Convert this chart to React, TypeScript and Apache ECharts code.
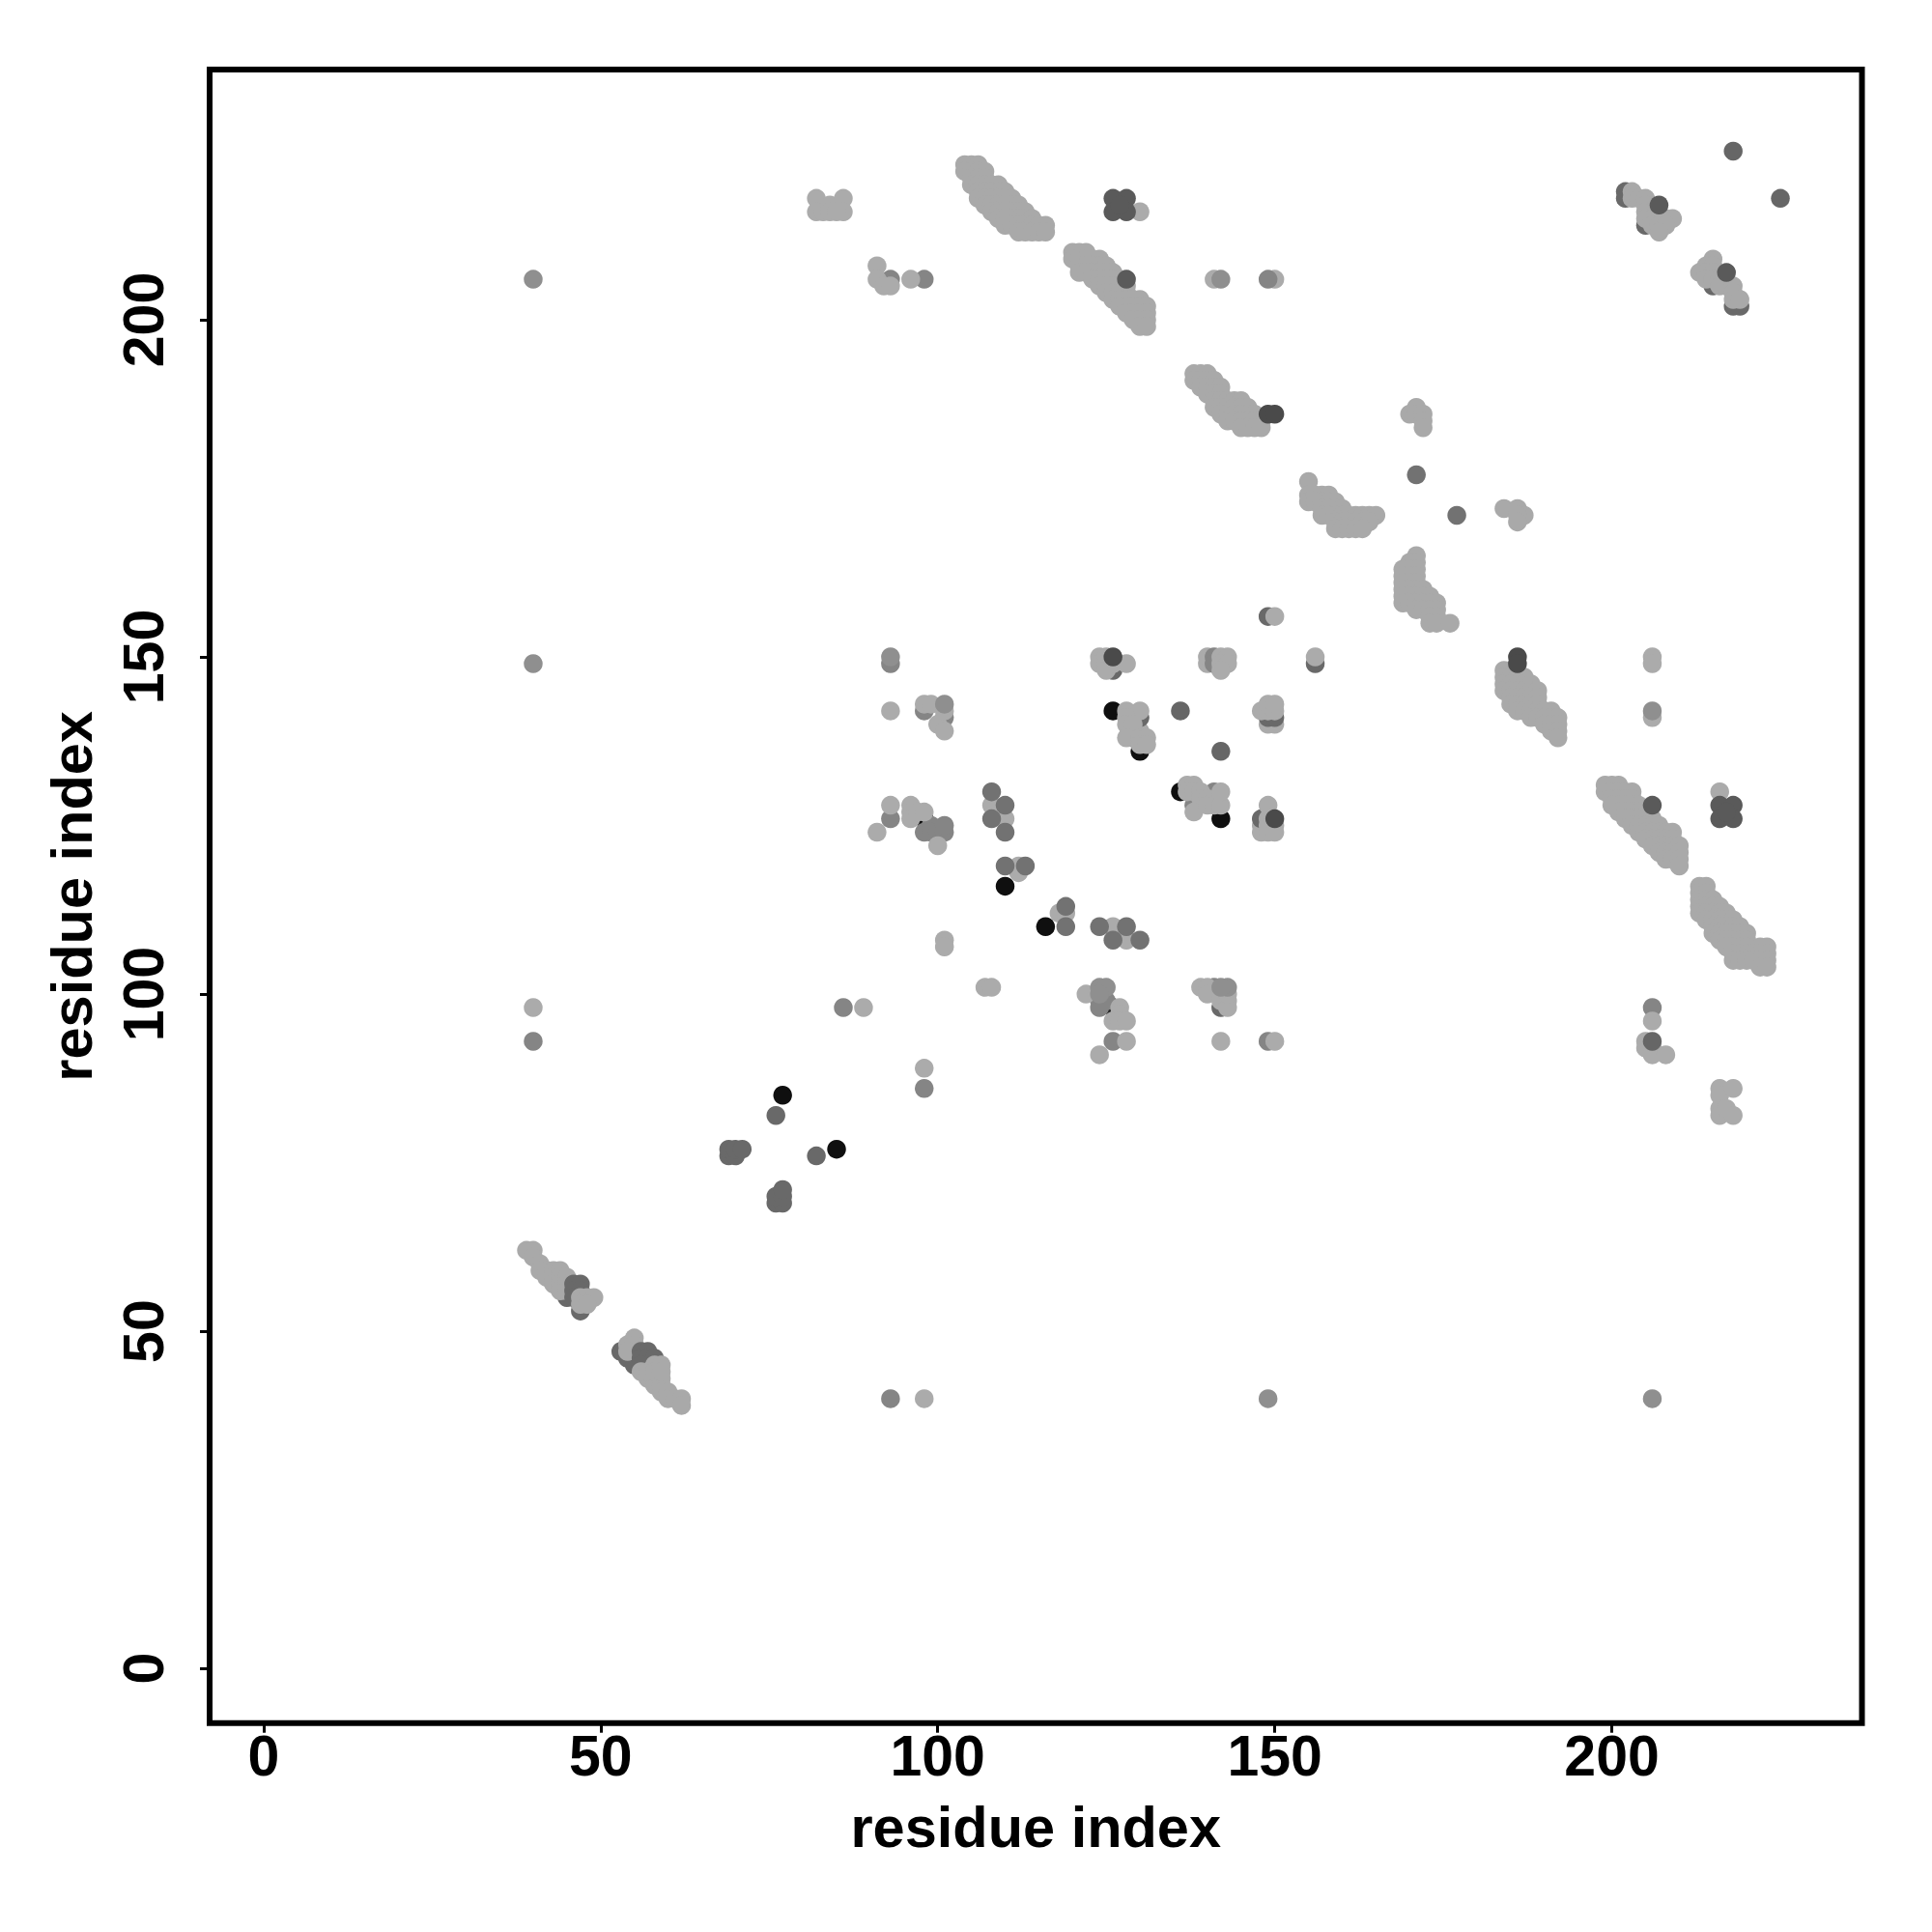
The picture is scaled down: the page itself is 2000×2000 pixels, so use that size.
import React, { useEffect, useRef } from "react";
import * as echarts from "echarts";

type P = [number, number];

const xTicks = [0, 50, 100, 150, 200];
const yTicks = [0, 50, 100, 150, 200];
const axisTitle = "residue index";

const lightBase: P[] = [[140,149],[140,150],[149,140],[150,140],[206,141],[130,139],[141,206],[148,125],[148,124],[150,206]];
const nearBlack: P[] = [[130,136],[136,130],[142,126],[98,126],[126,142],[110,116],[116,110],[77,85],[85,77]];
const almostBlack: P[] = [[126,98]];
const darkUnder: P[] = [
  [45,55],[47,54],[47,53],
  [53,47],[54,46],[55,45],
  [69,76],[69,77],[70,76],[70,77],[71,77],[76,69],[77,69],[76,70],[77,70],[77,71],
  [76,82],[82,76],[126,148],[156,149],[149,141],[150,141],[130,141],[148,126],[205,214],[215,205],[202,219],[202,218],
  [218,202],[219,202],[142,98],[149,156],
];
const midUnder: P[] = [
  [93,149],[98,142],[101,141],[93,126],[98,124],[99,125],[99,124],[100,124],[101,124],[101,125],
  [141,130],[138,128],[129,138],[141,150],[141,149],
  [126,93],[124,100],[124,99],[124,98],[125,99],[141,101],[149,93],[149,206],
  [98,86],[86,98],[93,40],[40,93],[206,98],[93,206],[98,206],
];
const lightStrands: P[] = [
  [39,62],[40,62],[40,61],[41,60],[41,59],[42,59],[42,58],[43,59],[43,58],[43,57],[44,59],[44,58],[44,57],[44,56],[45,58],[45,57],[45,56],
  [55,49],[54,48],[55,48],[54,47],[57,43],[58,43],[58,42],[59,43],[59,42],[59,41],[60,41],[60,40],[61,40],[62,40],[62,39],
  [104,223],[105,223],[106,223],[104,222],[105,222],[106,222],[107,222],[105,221],[106,221],[107,221],[105,220],[106,220],[107,220],[108,220],[109,220],[106,219],[107,219],[108,219],[109,219],[110,219],[106,218],[107,218],[108,218],[109,218],[110,218],[111,218],[107,217],[108,217],[109,217],[110,217],[111,217],[112,217],[108,216],[109,216],[110,216],[111,216],[112,216],[113,216],[109,215],[110,215],[111,215],[112,215],[113,215],[114,215],[110,214],[111,214],[112,214],[113,214],[114,214],[115,214],[116,214],[112,213],[113,213],[114,213],[115,213],[116,213],
  [120,210],[121,210],[122,210],[120,209],[121,209],[122,209],[123,209],[124,209],[121,208],[122,208],[123,208],[124,208],[125,208],[121,207],[122,207],[123,207],[124,207],[125,207],[126,207],[123,206],[124,206],[125,206],[126,206],[127,206],[124,205],[125,205],[126,205],[127,205],[128,205],[125,204],[126,204],[127,204],[128,204],[126,203],[127,203],[128,203],[129,203],[130,203],[127,202],[128,202],[129,202],[130,202],[131,202],[128,201],[129,201],[130,201],[131,201],[129,200],[130,200],[131,200],[130,199],[131,199],
  [138,192],[139,192],[140,192],[138,191],[139,191],[140,191],[141,191],[139,190],[140,190],[141,190],[142,190],[140,189],[141,189],[142,189],[141,188],[142,188],[143,188],[144,188],[145,188],[141,187],[142,187],[143,187],[144,187],[145,187],[146,187],[142,186],[143,186],[144,186],[145,186],[146,186],[147,186],[143,185],[144,185],[145,185],[146,185],[147,185],[148,185],[145,184],[146,184],[147,184],[148,184],
  [155,176],[155,174],[155,173],[156,174],[157,174],[158,174],[156,173],[157,173],[158,173],[159,173],[157,172],[158,172],[159,172],[160,172],[157,171],[158,171],[159,171],[160,171],[161,171],[162,171],[163,171],[164,171],[165,171],[159,170],[160,170],[161,170],[162,170],[163,170],[164,170],[159,169],[160,169],[161,169],[162,169],[163,169],
  [170,186],[171,187],[171,186],[172,186],[172,185],[172,184],
  [184,172],[186,172],[187,171],[186,171],[186,170],
  [171,165],[170,164],[171,164],[169,163],[170,163],[171,163],[169,162],[170,162],[171,162],[169,161],[170,161],[171,161],[169,160],[170,160],[171,160],[172,160],[169,159],[170,159],[171,159],[172,159],[173,159],[169,158],[170,158],[171,158],[172,158],[173,158],[174,158],[171,157],[172,157],[173,157],[174,157],[173,156],[174,156],[173,155],[174,155],[176,155],
  [184,148],[185,148],[184,147],[185,147],[186,147],[187,147],[184,146],[185,146],[186,146],[187,146],[188,146],[184,145],[185,145],[186,145],[187,145],[188,145],[189,145],[185,144],[186,144],[187,144],[188,144],[189,144],[185,143],[186,143],[187,143],[188,143],[189,143],[186,142],[187,142],[188,142],[189,142],[190,142],[191,142],[188,141],[189,141],[190,141],[191,141],[192,141],[190,140],[191,140],[192,140],[191,139],[192,139],[192,138],
  [199,131],[200,131],[201,131],[199,130],[200,130],[201,130],[202,130],[203,130],[200,129],[201,129],[202,129],[203,129],[200,128],[201,128],[202,128],[203,128],[204,128],[201,127],[202,127],[203,127],[204,127],[205,127],[202,126],[203,126],[204,126],[205,126],[206,126],[203,125],[204,125],[205,125],[206,125],[207,125],[204,124],[205,124],[206,124],[207,124],[208,124],[209,124],[205,123],[206,123],[207,123],[208,123],[209,123],[206,122],[207,122],[208,122],[209,122],[210,122],[207,121],[208,121],[209,121],[210,121],[208,120],[209,120],[210,120],[210,119],
  [213,116],[214,116],[213,115],[214,115],[213,114],[214,114],[215,114],[213,113],[214,113],[215,113],[216,113],[213,112],[214,112],[215,112],[216,112],[217,112],[214,111],[215,111],[216,111],[217,111],[218,111],[215,110],[216,110],[217,110],[218,110],[219,110],[215,109],[216,109],[217,109],[218,109],[219,109],[220,109],[216,108],[217,108],[218,108],[219,108],[220,108],[217,107],[218,107],[219,107],[220,107],[222,107],[223,107],[218,106],[219,106],[220,106],[221,106],[222,106],[223,106],[218,105],[219,105],[220,105],[221,105],[222,105],[223,105],[222,104],[223,104],
  [203,219],[203,218],[204,218],[205,218],[205,217],[205,216],[206,216],[205,215],[206,215],[207,215],[208,215],[209,215],[206,214],[207,214],[208,214],[207,213],
  [215,209],[214,208],[215,208],[213,207],[214,207],[215,207],[214,206],[215,206],[216,206],[216,205],[217,205],[218,205],[218,204],[218,203],[219,203],
];
const lightSingles: P[] = [
  [40,98],[98,40],[89,98],[98,89],
  [82,218],[82,216],[83,216],[84,217],[84,216],[86,218],[86,216],[85,216],
  [91,208],[91,206],[92,205],[93,205],[96,206],[130,216],[150,156],
  [93,142],[98,143],[99,143],[100,140],[101,142],[101,139],[93,128],[91,124],[96,128],[96,127],[96,126],[97,127],[98,127],[100,122],
  [108,128],[110,126],[112,119],[112,118],[118,112],[119,112],[101,108],[101,107],[107,101],[108,101],
  [126,110],[128,108],[122,100],[127,98],[127,97],[126,96],[127,96],[128,96],[128,93],[124,91],
  [124,150],[124,149],[125,150],[125,149],[125,148],[126,149],[128,149],
  [128,142],[130,142],[128,141],[128,140],[129,140],[128,138],[130,138],[131,138],[130,137],[131,137],
  [137,131],[138,131],[137,130],[138,130],[139,130],[139,129],[140,129],[138,127],[140,128],[141,128],[142,128],[142,130],
  [142,150],[143,150],[142,149],[143,149],[142,148],[156,150],
  [148,142],[149,142],[149,143],[150,142],[150,143],
  [149,128],[149,126],[149,125],[150,125],[149,124],[150,124],
  [139,101],[140,101],[140,100],[142,100],[142,99],[143,99],[143,98],[142,93],[150,93],[143,100],
  [206,96],[205,93],[205,92],[206,92],[206,91],[208,91],[206,150],[206,149],
  [216,86],[216,85],[218,86],[216,83],[216,82],[217,83],[218,82],[216,130],
];
const darkOnStrand: P[] = [
  [46,57],[47,57],[46,56],[47,56],[46,55],
  [56,47],[57,47],[56,46],[57,46],[58,46],[56,45],
];
const lightCaps: P[] = [
  [47,55],[48,55],[49,55],[47,54],[48,54],
  [56,44],[57,44],[58,45],[58,44],[59,45],[59,44],
];
const midOver: P[] = [
  [101,143],[124,101],[125,101],[124,100],[143,101],[142,101],[142,206],[40,149],[149,40],[206,40],[40,206],[93,150],[206,142],
];
const grayOver: P[] = [
  [108,130],[108,126],[110,128],[110,124],[110,119],[113,119],[119,113],[119,110],[124,110],[128,110],[126,108],[130,108],[171,177],[177,171],
];
const darkOver: P[] = [
  [218,225],[225,218],[136,142],[142,136],[206,93],
];
const darkerOver: P[] = [
  [126,218],[128,218],[126,216],[128,216],[127,217],[216,128],[218,128],[216,126],[218,126],[217,127],
  [207,217],[217,207],[206,128],[128,206],
];
const darkestOver: P[] = [
  [126,150],[149,186],[150,186],[186,150],[186,149],[150,126],
];

const scatter = (data: P[], color: string) => ({
  type: "scatter",
  data,
  symbol: "circle",
  symbolSize: 19.5,
  itemStyle: { color, opacity: 1 },
  silent: true,
});

const font = "Liberation Sans";

export default function App() {
  const ref = useRef<HTMLDivElement>(null);
  useEffect(() => {
    const chart = echarts.init(ref.current!, undefined, { renderer: "svg" });
    const axisCommon = {
      type: "value",
      nameLocation: "middle",
      name: axisTitle,
      nameTextStyle: { fontFamily: font, fontWeight: "bold", fontSize: 59.5, color: "#000" },
      splitLine: { show: false },
      axisLine: { show: false, onZero: false },
      axisTick: { show: true, length: 10, lineStyle: { color: "#000", width: 3 } },
    };
    chart.setOption({
      animation: false,
      backgroundColor: "#fff",
      grid: { left: 217, top: 72, width: 1710.5, height: 1711.7, show: true, borderColor: "#000", borderWidth: 6, backgroundColor: "#fff" },
      xAxis: {
        ...axisCommon,
        min: -8,
        max: 237.1,
        nameGap: 78,
        axisTick: { ...axisCommon.axisTick, customValues: xTicks },
        axisLabel: { customValues: xTicks, margin: 5, fontFamily: font, fontWeight: "bold", fontSize: 59, color: "#000" },
      },
      yAxis: {
        ...axisCommon,
        min: -8.1,
        max: 237.1,
        nameGap: 113,
        nameRotate: 90,
        axisTick: { ...axisCommon.axisTick, customValues: yTicks },
        axisLabel: { customValues: yTicks, rotate: 90, margin: 68, fontFamily: font, fontWeight: "bold", fontSize: 59, color: "#000", verticalAlign: "middle", align: "center" },
      },
      series: [
        scatter(lightBase, "#ababab"),
        scatter(nearBlack, "#0f0f0f"),
        scatter(almostBlack, "#2a2a2a"),
        scatter(darkUnder, "#696969"),
        scatter(midUnder, "#858585"),
        scatter(lightStrands, "#a9a9a9"),
        scatter(lightSingles, "#ababab"),
        scatter(darkOnStrand, "#696969"),
        scatter(lightCaps, "#a9a9a9"),
        scatter(midOver, "#8f8f8f"),
        scatter(grayOver, "#727272"),
        scatter(darkOver, "#666666"),
        scatter(darkerOver, "#5a5a5a"),
        scatter(darkestOver, "#4a4a4a"),
      ],
    });
    return () => chart.dispose();
  }, []);
  return <div ref={ref} style={{ position: "absolute", left: 0, top: 0, width: 2000, height: 2000 }} />;
}
